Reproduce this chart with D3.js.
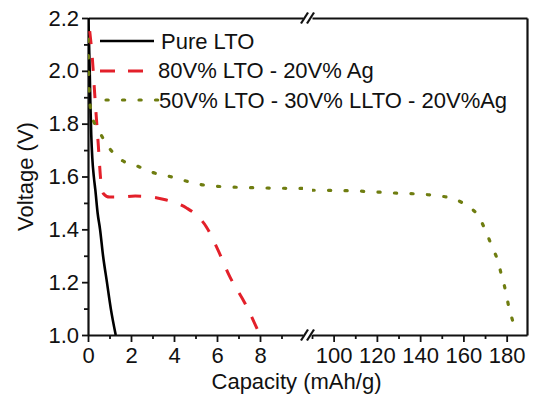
<!DOCTYPE html>
<html>
<head>
<meta charset="utf-8">
<script src="https://cdn.jsdelivr.net/npm/d3@7"></script>
<style>
  html, body { margin: 0; padding: 0; background: #fff; }
  svg { display: block; }
  text { font-family: "Liberation Sans", Arial, Helvetica, sans-serif; fill: #111; }
</style>
</head>
<body>
<svg id="chart" width="534" height="395"></svg>
<script>
// ---------------- data ----------------
const seriesNames = ["Pure LTO", "80V% LTO - 20V% Ag", "50V% LTO - 30V% LLTO - 20V%Ag"];
const seriesColors = ["#000000", "#e3202a", "#6f7d10"];

// Pure LTO: [capacity mAh/g, voltage V]
const pureLTO = [
  [0.02, 2.20], [0.05, 2.10], [0.08, 2.00], [0.11, 1.88], [0.15, 1.76], [0.20, 1.67],
  [0.27, 1.60], [0.34, 1.55], [0.45, 1.46], [0.56, 1.40], [0.70, 1.30], [0.88, 1.20],
  [1.06, 1.10], [1.29, 1.00]
];
// 80V% LTO - 20V% Ag
const ltoAg = [
  [0.08, 2.15], [0.19, 2.06], [0.33, 1.89], [0.47, 1.73], [0.60, 1.58], [0.72, 1.535],
  [1.00, 1.522], [1.50, 1.522], [2.20, 1.526], [3.00, 1.522], [3.60, 1.512], [4.10, 1.500],
  [4.60, 1.480], [5.10, 1.450], [5.50, 1.410], [6.00, 1.330], [6.60, 1.220], [7.30, 1.120],
  [8.00, 1.000]
];
// 50V% LTO - 30V% LLTO - 20V%Ag
const ltoLltoAg = [
  [0.01, 2.12], [0.03, 2.00], [0.07, 1.90], [0.18, 1.83], [0.47, 1.78], [0.88, 1.72],
  [1.49, 1.666], [2.28, 1.640], [3.02, 1.615], [3.81, 1.600], [4.60, 1.582], [5.35, 1.568],
  [6.14, 1.562], [7.50, 1.558], [8.60, 1.556], [10.0, 1.555],
  [90.0, 1.548], [102.9, 1.547], [110.8, 1.545], [118.6, 1.542], [126.5, 1.538],
  [133.8, 1.536], [141.7, 1.532], [149.5, 1.526], [155.0, 1.517], [159.7, 1.500],
  [163.5, 1.480], [166.6, 1.454], [170.3, 1.394], [173.1, 1.337], [175.8, 1.283],
  [177.7, 1.224], [179.5, 1.167], [180.9, 1.110], [182.8, 1.053], [184.0, 1.020]
];
const seriesData = [pureLTO, ltoAg, ltoLltoAg];

const yMajorTicks = [1.0, 1.2, 1.4, 1.6, 1.8, 2.0, 2.2];
const yMinorTicks = [1.1, 1.3, 1.5, 1.7, 1.9, 2.1];
const xLeftMajorTicks = [0, 2, 4, 6, 8];
const xLeftMinorTicks = [1, 3, 5, 7, 9];
const xRightMajorTicks = [100, 120, 140, 160, 180];
const xRightMinorTicks = [90, 110, 130, 150, 170];
const xLeftDomain = [0, 10];
const xRightDomain = [90, 189.4];
const yDomain = [1.0, 2.2];
const xTitle = "Capacity (mAh/g)";
const yTitle = "Voltage (V)";

// ---------------- layout ----------------
const L = 88, T = 18, R = 527, B = 335;
const breakL = 303, breakR = 312;
const svg = d3.select("#chart");

const y = d3.scaleLinear().domain(yDomain).range([B, T]);
const xL = d3.scaleLinear().domain(xLeftDomain).range([L, breakL]);
const xR = d3.scaleLinear().domain(xRightDomain).range([breakR, R]);

const defs = svg.append("defs");
defs.append("clipPath").attr("id", "clipL").append("rect")
  .attr("x", L).attr("y", 0).attr("width", breakL - L).attr("height", B + 2);
defs.append("clipPath").attr("id", "clipR").append("rect")
  .attr("x", breakR).attr("y", 0).attr("width", R - breakR).attr("height", B + 2);

const fontSize = 22;

// ---------------- axes ----------------
function styleAxis(g) {
  g.selectAll("path.domain").attr("stroke", "#111").attr("stroke-width", 2.2);
  g.selectAll(".tick line").attr("stroke", "#111").attr("stroke-width", 1.8);
  g.selectAll("text").attr("font-size", fontSize).attr("fill", "#111")
    .attr("font-family", '"Liberation Sans", Arial, sans-serif');
}

// y axis (left)
svg.append("g").attr("transform", `translate(${L},0)`)
  .call(d3.axisLeft(y).tickValues(yMinorTicks).tickSize(4).tickFormat(""))
  .call(g => g.select(".domain").remove()).call(styleAxis);
svg.append("g").attr("transform", `translate(${L},0)`)
  .call(d3.axisLeft(y).tickValues(yMajorTicks).tickSize(6).tickSizeOuter(0).tickPadding(3).tickFormat(d3.format(".1f")))
  .call(styleAxis);

// x axis bottom, left segment
svg.append("g").attr("transform", `translate(0,${B})`)
  .call(d3.axisBottom(xL).tickValues(xLeftMinorTicks).tickSize(4).tickFormat(""))
  .call(g => g.select(".domain").remove()).call(styleAxis);
svg.append("g").attr("transform", `translate(0,${B})`)
  .call(d3.axisBottom(xL).tickValues(xLeftMajorTicks).tickSize(7).tickSizeOuter(0).tickPadding(5).tickFormat(d3.format("d")))
  .call(styleAxis);
// x axis bottom, right segment
svg.append("g").attr("transform", `translate(0,${B})`)
  .call(d3.axisBottom(xR).tickValues(xRightMinorTicks).tickSize(4).tickFormat(""))
  .call(g => g.select(".domain").remove()).call(styleAxis);
svg.append("g").attr("transform", `translate(0,${B})`)
  .call(d3.axisBottom(xR).tickValues(xRightMajorTicks).tickSize(7).tickSizeOuter(0).tickPadding(5).tickFormat(d3.format("d")))
  .call(styleAxis);

// top frame (broken) and right frame
svg.append("g").attr("transform", `translate(0,${T})`)
  .call(d3.axisTop(xL).tickValues([]).tickSizeOuter(0)).call(styleAxis);
svg.append("g").attr("transform", `translate(0,${T})`)
  .call(d3.axisTop(xR).tickValues([]).tickSizeOuter(0)).call(styleAxis);
svg.append("g").attr("transform", `translate(${R},0)`)
  .call(d3.axisRight(y).tickValues([]).tickSizeOuter(0)).call(styleAxis);

// break marks
const breakCenters = [304.5, 310.5];
[T, B].forEach(yy => {
  breakCenters.forEach(cx => {
    svg.append("line")
      .attr("x1", cx - 3.5).attr("y1", yy + 5.5)
      .attr("x2", cx + 3.5).attr("y2", yy - 5.5)
      .attr("stroke", "#111").attr("stroke-width", 2.2);
  });
});

// ---------------- series ----------------
const styles = [
  { width: 2.6, dash: null, cap: "butt" },
  { width: 3.0, dash: "13,14", cap: "butt" },
  { width: 3.2, dash: "2.2,14.3", cap: "round" }
];

function drawSeries(data, xs, clipId, i) {
  const line = d3.line()
    .x(d => xs(d[0])).y(d => y(d[1]))
    .curve(d3.curveMonotoneX);
  const path = svg.append("path")
    .datum(data)
    .attr("clip-path", `url(#${clipId})`)
    .attr("fill", "none")
    .attr("stroke", seriesColors[i])
    .attr("stroke-width", styles[i].width)
    .attr("stroke-linecap", styles[i].cap)
    .attr("stroke-linejoin", "round")
    .attr("d", line);
  if (styles[i].dash) path.attr("stroke-dasharray", styles[i].dash);
}

seriesData.forEach((data, i) => {
  const left = data.filter(d => d[0] <= xLeftDomain[1]);
  const right = data.filter(d => d[0] >= xRightDomain[0]);
  if (left.length > 1) drawSeries(left, xL, "clipL", i);
  if (right.length > 1) drawSeries(right, xR, "clipR", i);
});

// ---------------- legend ----------------
const legendRows = [
  { x1: 100, x2: 154, y: 41, tx: 161, ty: 48.5 },
  { x1: 100, x2: 145, y: 71, tx: 158, ty: 78 },
  { x1: 106, x2: 160, y: 100, tx: 159, ty: 108 }
];
const legendDash = [null, "15,13", "2.2,14.3"];
legendRows.forEach((r, i) => {
  const ln = svg.append("line")
    .attr("x1", r.x1).attr("x2", r.x2).attr("y1", r.y).attr("y2", r.y)
    .attr("stroke", seriesColors[i])
    .attr("stroke-width", styles[i].width)
    .attr("stroke-linecap", styles[i].cap);
  if (legendDash[i]) ln.attr("stroke-dasharray", legendDash[i]);
  svg.append("text")
    .attr("x", r.tx).attr("y", r.ty)
    .attr("font-size", fontSize)
    .text(seriesNames[i]);
});

// ---------------- titles ----------------
svg.append("text")
  .attr("x", 296.5).attr("y", 389)
  .attr("text-anchor", "middle")
  .attr("font-size", fontSize)
  .text(xTitle);
svg.append("text")
  .attr("transform", "translate(33,176.5) rotate(-90)")
  .attr("text-anchor", "middle")
  .attr("font-size", fontSize)
  .text(yTitle);
</script>
</body>
</html>
